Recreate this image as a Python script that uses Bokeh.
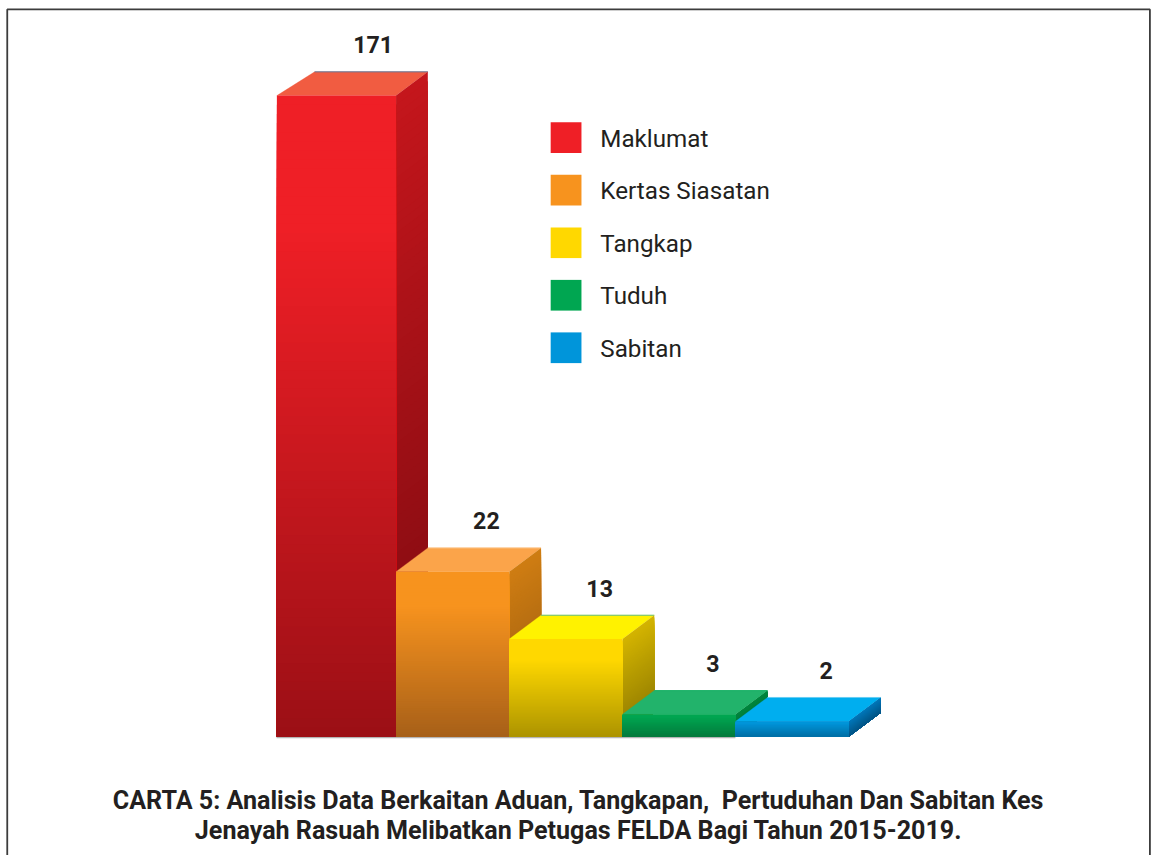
from bokeh.plotting import figure
from bokeh.embed import file_html
from bokeh.resources import INLINE
from bokeh.models import Range1d
from bokeh.core.properties import value

categories = ["Maklumat", "Kertas Siasatan", "Tangkap", "Tuduh", "Sabitan"]
value_labels = ["171", "22", "13", "3", "2"]
# Bars in the source are not proportional to their labels: drawn heights
bar_heights = [647, 166.5, 98.5, 22.5, 15.5]

caption_lines = [
    "CARTA 5: Analisis Data Berkaitan Aduan, Tangkapan,\u00a0 Pertuduhan Dan Sabitan Kes",
    "Jenayah Rasuah Melibatkan Petugas FELDA Bagi Tahun 2015-2019.",
]

# style: front face (bright, dark, fraction of height from top that stays bright)
front_bright = ["#ef1f26", "#f7931e", "#ffd800", "#00a651", "#0095da"]
front_dark = ["#9a0f15", "#a65f18", "#ab9300", "#047a3c", "#006fa6"]
front_flat = [0.2, 0.2, 0.2, 0.1, 0.1]
side_bright = ["#c4161c", "#cf7d12", "#d4b400", "#00873f", "#0078bc"]
side_dark = ["#7c0a10", "#96590f", "#8f7a00", "#006a33", "#005587"]
top_fill = ["#f15c41", "#fba44a", "#fff200", "#22b36b", "#00aeef"]
back_edge = ["#647a9c", "#fcc78f", "#62bd7c", "#22b36b", "#66cdf3"]
legend_fill = ["#ef1f26", "#f7931e", "#ffd800", "#00a651", "#0095da"]

# geometry (pixel-like units of the hidden axes)
X0, X1, Y_BOTTOM, Y_TOP = 0, 1159, -120, 743
left_edges = [278.3, 398.3, 512.3, 626.3, 740.3]
right_edges = [398.3, 512.3, 626.3, 740.3, 854.3]
left_depth = [38, 32, 32, 32, 32]
DX, DY = 32, 24
INK = "#231f20"
N = 70


def hex_rgb(h):
    return tuple(int(h[i:i + 2], 16) for i in (1, 3, 5))


def mix(a, b, t):
    ca, cb = hex_rgb(a), hex_rgb(b)
    return "#%02x%02x%02x" % tuple(round(x + (y - x) * t) for x, y in zip(ca, cb))


p = figure(width=1151, height=855, output_backend="svg", toolbar_location=None,
           x_range=Range1d(X0, X1), y_range=Range1d(Y_BOTTOM, Y_TOP),
           min_border=0, outline_line_color=None)
p.axis.visible = False
p.grid.visible = False
p.background_fill_color = "white"
p.border_fill_color = "white"

# frame, open at the bottom
p.line([6.8, 6.8, 1157.4, 1157.4], [Y_BOTTOM, 734, 734, Y_BOTTOM], line_color="#3c3c3c", line_width=1.8)

# baseline with ticks
p.segment([278, 398, 512, 626], [0, 0, 0, 0], [740, 398, 512, 626], [0, -1.5, -1.5, -1.5],
          line_color="#b5b5b5", line_width=1.2)
p.line([278, 740], [-0.8, -0.8], line_color="#b5b5b5", line_width=1.5)

for i, h in enumerate(bar_heights):
    l, r, ld = left_edges[i], right_edges[i], left_depth[i]
    # top face
    p.patch([l, l + ld, r + DX, r], [h, h + DY, h + DY, h], fill_color=top_fill[i], line_color=top_fill[i], line_width=0.3)
    p.line([l + ld, r + DX], [h + DY, h + DY], line_color=back_edge[i], line_width=1)
    # side and front faces: painted top-down so each band overlaps the next
    for k in range(N):
        t = k / N
        y = h * (1 - t)
        p.patch([r, r + DX, r + DX, r], [y, y + DY, DY, 0],
                fill_color=mix(side_bright[i], side_dark[i], t), line_color=None)
    for k in range(N):
        t = k / N
        y = h * (1 - t)
        f = 0 if t < front_flat[i] else (t - front_flat[i]) / (1 - front_flat[i])
        p.quad(left=l, right=r, top=y, bottom=0, fill_color=mix(front_bright[i], front_dark[i], f), line_color=None)
    # value label above the back edge
    p.text([(l + ld + r + DX) / 2 + 2], [h + DY + 27.5], text=[value_labels[i]], text_align="center",
           text_baseline="middle", text_font=value("Roboto"), text_font_style="bold",
           text_font_size="23.2px", text_color=INK)

# legend
for i, name in enumerate(categories):
    yc = 743 - (138.5 + 53 * i)
    p.rect([569.5], [yc], width=31, height=31, fill_color=legend_fill[i], line_color=None)
    p.text([604], [yc - 1], text=[name], text_align="left", text_baseline="middle",
           text_font=value("Roboto"), text_font_size="24.2px", text_color=INK)

# caption
for j, line in enumerate(caption_lines):
    p.text([582], [743 - (807 + 31 * j)], text=[line], text_align="center", text_baseline="middle",
           text_font=value("Roboto"), text_font_style="bold", text_font_size="25.1px", text_color=INK)

open("out.html", "w").write(file_html(p, INLINE))
